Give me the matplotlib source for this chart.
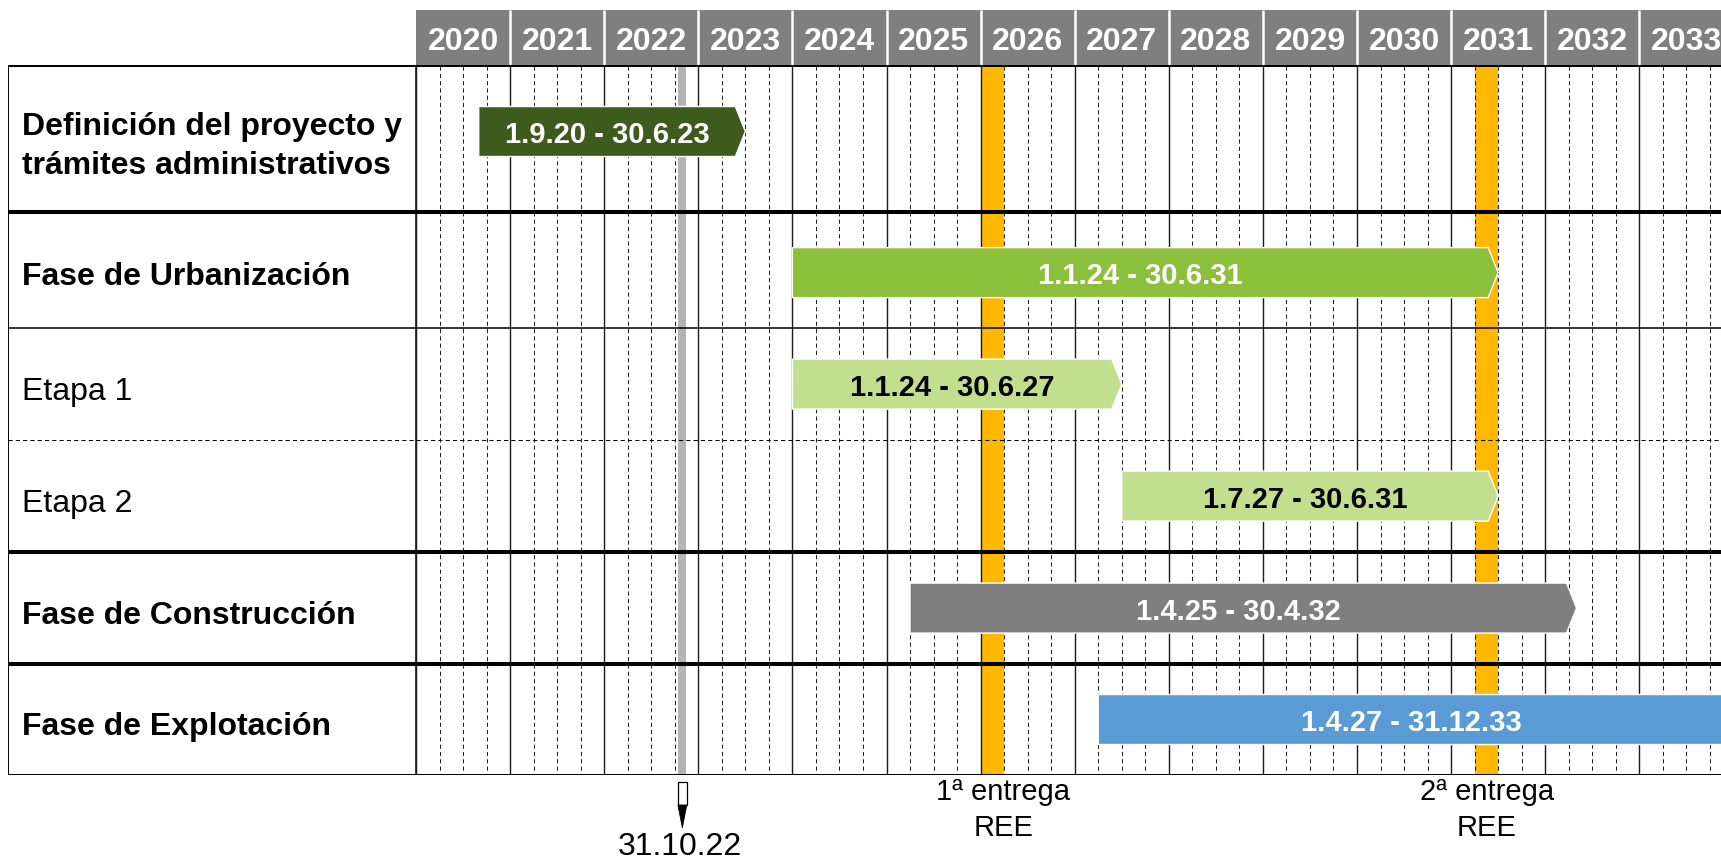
import calendar
import datetime as dt
import matplotlib
matplotlib.use("Agg")
import matplotlib.pyplot as plt
from matplotlib.patches import Polygon, Rectangle

plt.rcParams['font.family'] = ['Liberation Sans', 'DejaVu Sans']

# ---------------- data ----------------
years = list(range(2020, 2034))
task_labels = ["Definición del proyecto y\ntrámites administrativos",
               "Fase de Urbanización", "Etapa 1", "Etapa 2",
               "Fase de Construcción", "Fase de Explotación"]
label_bold = [True, True, False, False, True, True]
task_start = ["1.9.20", "1.1.24", "1.1.24", "1.7.27", "1.4.25", "1.4.27"]
task_end = ["30.6.23", "30.6.31", "30.6.27", "30.6.31", "30.4.32", "31.12.33"]
bar_colors = ["#3E5A1C", "#8CBF3C", "#C2DF8F", "#C2DF8F", "#7F7F7F", "#5B9BD5"]
bar_text_colors = ["white", "white", "black", "black", "white", "white"]
status_date = "31.10.22"
delivery_labels = ["1ª entrega\nREE", "2ª entrega\nREE"]
delivery_start = [2026.0, 2031.25]
delivery_end = [2026.25, 2031.5]
delivery_label_x = [2026.24, 2031.38]
separator_styles = ["thick", "thin", "dashed", "thick", "thick"]

# ---------------- layout ----------------
W, H = 1721, 863
PX_YEAR = 94.1          # pixels per year
UNIT = 112.0            # pixels per row unit
row_heights = [1.30, 1.04, 1.0, 1.0, 1.0, 0.99]
header_h = 0.5
bar_offsets = [-0.065, 0.025, 0, 0, 0, 0]
bar_half = 25 / UNIT
tip = 10 / PX_YEAR


def to_dec(s, end=False):
    d, m, y = map(int, s.split("."))
    date = dt.date(2000 + y, m, d)
    if end:
        date += dt.timedelta(days=1)
    nd = calendar.monthrange(date.year, date.month)[1]
    return date.year + (date.month - 1) / 12 + (date.day - 1) / nd / 12


edges = [0.0]
for h in row_heights:
    edges.append(edges[-1] + h)
total = edges[-1]
centers = [(edges[i] + edges[i + 1]) / 2 for i in range(len(row_heights))]

fig = plt.figure(figsize=(W / 100, H / 100), dpi=100)
top_px = 10
bot_px = top_px + (total + header_h) * UNIT
ax = fig.add_axes([416 / W, (H - bot_px) / H, (W - 416) / W, (bot_px - top_px) / H])
ax_lab = fig.add_axes([8 / W, (H - bot_px) / H, (416 - 8) / W, (bot_px - top_px) / H])
xmax = 2020 + (W - 416) / PX_YEAR
ax.set_xlim(2020, xmax)
for a in (ax, ax_lab):
    a.set_ylim(total, -header_h)
    a.axis("off")
ax_lab.set_xlim(0, 1)

# header
ax.add_patch(Rectangle((years[0], -header_h), years[-1] + 1 - years[0], header_h,
                       facecolor="#7F7F7F", edgecolor="none", zorder=1))
for y in years[1:] + [years[-1] + 1]:
    ax.vlines(y, -header_h, 0, color="white", lw=1.8, zorder=2)
for y in years:
    ax.text(y + 0.5, -16 / UNIT, str(y), color="white", fontsize=23, fontweight="bold",
            ha="center", va="baseline", zorder=3)

# delivery bands
for s, e in zip(delivery_start, delivery_end):
    ax.add_patch(Rectangle((s, 0), e - s, total, facecolor="#FFB800",
                           edgecolor="none", zorder=1))

# vertical grid
for y in years + [years[-1] + 1]:
    ax.vlines(y, 0, total, color="#1A1A1A", lw=1.0, zorder=2)
    for q in (0.25, 0.5, 0.75):
        ax.vlines(y + q, 0, total, color="#222222", lw=0.75,
                  linestyles=(0, (4, 3)), zorder=2)

# status line
sx = to_dec(status_date)
ax.vlines(sx, 0, total, color="#B4B4B4", lw=5.8, zorder=3)

# horizontal separators
styles = {"thick": dict(lw=2.9, ls="-"), "thin": dict(lw=1.1, ls="-"),
          "dashed": dict(lw=0.75, ls=(0, (4, 3)))}
for a in (ax, ax_lab):
    a.axhline(0, color="black", lw=1.4, zorder=4)
    a.axhline(total, color="black", lw=1.4, zorder=4)
    for yv, st in zip(edges[1:-1], separator_styles):
        a.axhline(yv, color="black", zorder=4, **styles[st])
ax_lab.vlines(0, 0, total, color="black", lw=1.4)
ax_lab.vlines(1, 0, total, color="black", lw=1.1)

# labels
lsp = 39 / UNIT
for lab, bold, c in zip(task_labels, label_bold, centers):
    lines = lab.split("\n")
    first = c + 15.5 / UNIT - (len(lines) - 1) * lsp / 2
    for i, ln in enumerate(lines):
        ax_lab.text(14 / 408, first + i * lsp, ln, fontsize=23,
                    fontweight="bold" if bold else "normal",
                    ha="left", va="baseline", color="black")

# bars
for i, (s, e) in enumerate(zip(task_start, task_end)):
    x0 = to_dec(s)
    x1 = to_dec(e, end=True)
    yc = centers[i] + bar_offsets[i]
    pts = [(x0, yc - bar_half), (x1 - tip, yc - bar_half), (x1, yc),
           (x1 - tip, yc + bar_half), (x0, yc + bar_half)]
    ax.add_patch(Polygon(pts, closed=True, facecolor=bar_colors[i],
                         edgecolor="white", lw=1.0, zorder=5))
    ax.text((x0 + x1 - tip) / 2, yc + 11.5 / UNIT, f"{s} - {e}", fontsize=21,
            fontweight="bold", color=bar_text_colors[i], ha="center",
            va="baseline", zorder=6)

# status arrow and label (below table)
shaft_w = 9 / PX_YEAR
ax.add_patch(Rectangle((sx - shaft_w / 2, (782 - 66) / UNIT), shaft_w, 23 / UNIT,
                       facecolor="white", edgecolor="black", lw=0.9, clip_on=False))
ax.add_patch(Polygon([(sx - shaft_w / 2, (805 - 66) / UNIT), (sx + shaft_w / 2, (805 - 66) / UNIT),
                      (sx, (828 - 66) / UNIT)], closed=True, facecolor="black",
                     edgecolor="black", lw=0.5, clip_on=False))
ax.text(sx - 0.03, (855 - 66) / UNIT, status_date, fontsize=23, ha="center",
        va="baseline", clip_on=False)

# delivery labels
for lab, lx in zip(delivery_labels, delivery_label_x):
    l1, l2 = lab.split("\n")
    ax.text(lx, (800 - 66) / UNIT, l1, fontsize=21, ha="center", va="baseline", clip_on=False)
    ax.text(lx, (835.5 - 66) / UNIT, l2, fontsize=21, ha="center", va="baseline", clip_on=False)

fig.savefig("out.png", dpi=100)
